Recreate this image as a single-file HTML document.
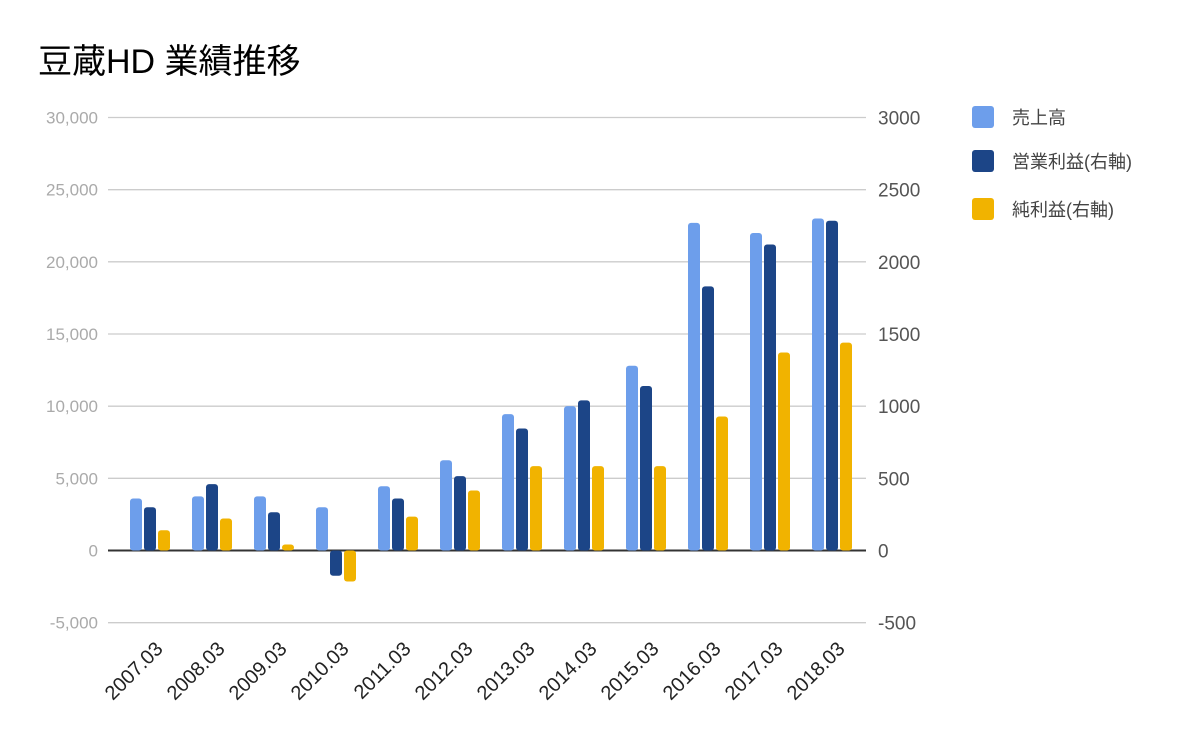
<!DOCTYPE html>
<html><head><meta charset="utf-8"><style>
body{margin:0;background:#fff;font-family:"Liberation Sans","Noto Sans CJK JP",sans-serif;}
</style></head><body>
<svg width="1200" height="742" id="c" xmlns="http://www.w3.org/2000/svg" font-family="Liberation Sans, Noto Sans CJK JP, sans-serif">
<text x="38" y="73" font-size="34" fill="#000">豆蔵HD 業績推移</text>
<g id="grid"></g><g id="bars"></g><g id="labels"></g>
<g>
<rect x="972" y="106" width="22" height="22" rx="3" fill="#6d9eeb"/>
<text x="1012" y="124" font-size="18" fill="#444">売上高</text>
<rect x="972" y="150" width="22" height="22" rx="3" fill="#1c4587"/>
<text x="1012" y="168" font-size="18" fill="#444">営業利益(右軸)</text>
<rect x="972" y="198" width="22" height="22" rx="3" fill="#f1b300"/>
<text x="1012" y="216" font-size="18" fill="#444">純利益(右軸)</text>
</g>
</svg>
<script>
const categories=["2007.03","2008.03","2009.03","2010.03","2011.03","2012.03","2013.03","2014.03","2015.03","2016.03","2017.03","2018.03"];
const sales=[3600,3750,3750,3000,4450,6250,9450,10000,12800,22700,22000,23000];
const opProfit=[300,460,265,-175,360,515,845,1040,1140,1830,2120,2285];
const netProfit=[140,222,42,-215,235,416,585,585,585,928,1372,1440];
const leftTicks=[-5000,0,5000,10000,15000,20000,25000,30000];
const rightTicks=[-500,0,500,1000,1500,2000,2500,3000];
const NS="http://www.w3.org/2000/svg";
const y0=550.5,pxL=433/30000,pxR=433/3000;
const yL=v=>y0-v*pxL, yR=v=>y0-v*pxR;
const xC=i=>150+62*i;
function mk(t,a,p){const e=document.createElementNS(NS,t);for(const k in a)e.setAttribute(k,a[k]);document.getElementById(p).appendChild(e);return e;}
leftTicks.forEach((v,i)=>{
 const l=mk('line',{x1:108,x2:866,y1:yL(v),y2:yL(v),stroke:v===0?'#333':'#ccc','stroke-width':v===0?2:1.3},'grid');
 
 
 const t=mk('text',{x:98,y:yL(v)+6,'text-anchor':'end','font-size':17,fill:'#aaa'},'labels');
 t.textContent=v.toLocaleString('en-US');
 
 
});
rightTicks.forEach(v=>{
 const t=mk('text',{x:878,y:yR(v)+7,'font-size':19,fill:'#555'},'labels');
 t.textContent=String(v);
 
 
});
function bar(x,y1,y2,c,name){
 const top=Math.min(y1,y2),h=Math.max(Math.abs(y2-y1),1);
 const r=mk('rect',{x:x,y:top,width:12,height:h,rx:3,fill:c},'bars');
 
 
}
categories.forEach((c,i)=>{
 const cx=xC(i);
 bar(cx-20,y0,yL(sales[i]),'#6d9eeb','bar-sales-'+c);
 bar(cx-6,y0,yR(opProfit[i]),'#1c4587','bar-op-profit-'+c);
 bar(cx+8,y0,yR(netProfit[i]),'#f1b300','bar-net-profit-'+c);
 const t=mk('text',{x:cx+14,y:650,'text-anchor':'end','font-size':20,fill:'#222',transform:`rotate(-45 ${cx+14} 650)`},'labels');
 t.textContent=c;
 
 
});
</script>
</body></html>
